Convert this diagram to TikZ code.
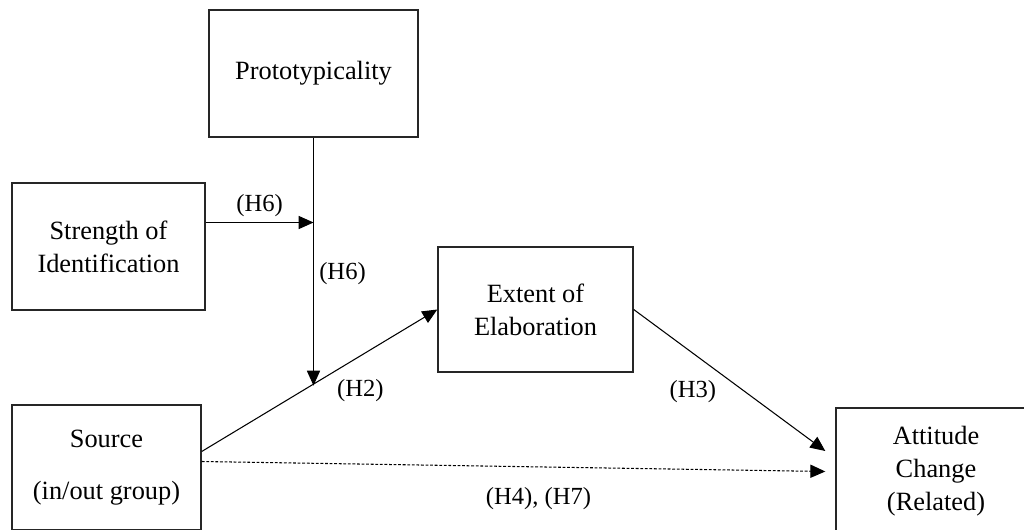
\documentclass[tikz,border=0pt]{standalone}
\usepackage{fontspec}
\setmainfont{Liberation Serif}
\usepackage{tikz}
\usetikzlibrary{arrows.meta, positioning}

\begin{document}
\begin{tikzpicture}[
    box/.style = {
      rectangle, draw = black!85, line width = 0.8pt, fill = white,
      align = center, inner sep = 2pt,
      font = \fontsize{15pt}{18.8pt}\selectfont
    },
    arr/.style  = {-{Triangle[length=8.5pt, width=7.5pt]}, line width = 0.6pt, black},
    dots/.style = {dash pattern = on 1.6pt off 1pt},
    lbl/.style  = {font = \fontsize{14pt}{17pt}\selectfont, inner sep = 3pt}
  ]
    \useasboundingbox (0,0) rectangle (20.48,10.58);
    \clip (0,0) rectangle (20.48,10.58);

    % ── Nodes ────────────────────────────────────────────────────────────────
    \node[box, minimum width = 4.18cm, minimum height = 2.54cm] (proto) at (6.27,9.11)  {Prototypicality};
    \node[box, minimum width = 3.86cm, minimum height = 2.54cm] (ident) at (2.17,5.65)  {Strength of\\Identification};
    \node[box, minimum width = 3.90cm, minimum height = 2.50cm] (elab)  at (10.71,4.39) {Extent of\\Elaboration};
    \node[box, minimum width = 3.78cm, minimum height = 2.50cm] (src)   at (2.13,1.23)  {Source\\[11pt](in/out group)};
    \node[box, minimum width = 4.00cm, minimum height = 2.54cm] (att)   at (18.72,1.15) {Attitude\\Change\\(Related)};

    \coordinate (srcA) at ([yshift=0.32cm]src.east);
    \coordinate (srcB) at ([yshift=0.12cm]src.east);
    \coordinate (attA) at ([xshift=-0.2cm, yshift=0.41cm]att.west);
    \coordinate (attB) at ([xshift=-0.2cm]att.west);
    \coordinate (idA)  at ([yshift=0.48cm]ident.east);

    % ── Arrows ───────────────────────────────────────────────────────────────
    \draw[arr] (srcA) -- node[lbl, pos=0.55, below right]{(H2)} coordinate[pos=0.464] (hit) (elab.west);
    \draw[arr] (proto.south) -- node[lbl, pos=0.55, right]{(H6)} (proto.south |- hit);
    \draw[arr] (idA) -- node[lbl, above]{(H6)} (idA -| proto.south);
    \draw[arr] (elab.east) -- node[lbl, pos=0.46, below left]{(H3)} (attA);
    \draw[arr, dots] (srcB) -- node[lbl, pos=0.54, below=0.3cm]{(H4), (H7)} (attB);
  \end{tikzpicture}
\end{document}
